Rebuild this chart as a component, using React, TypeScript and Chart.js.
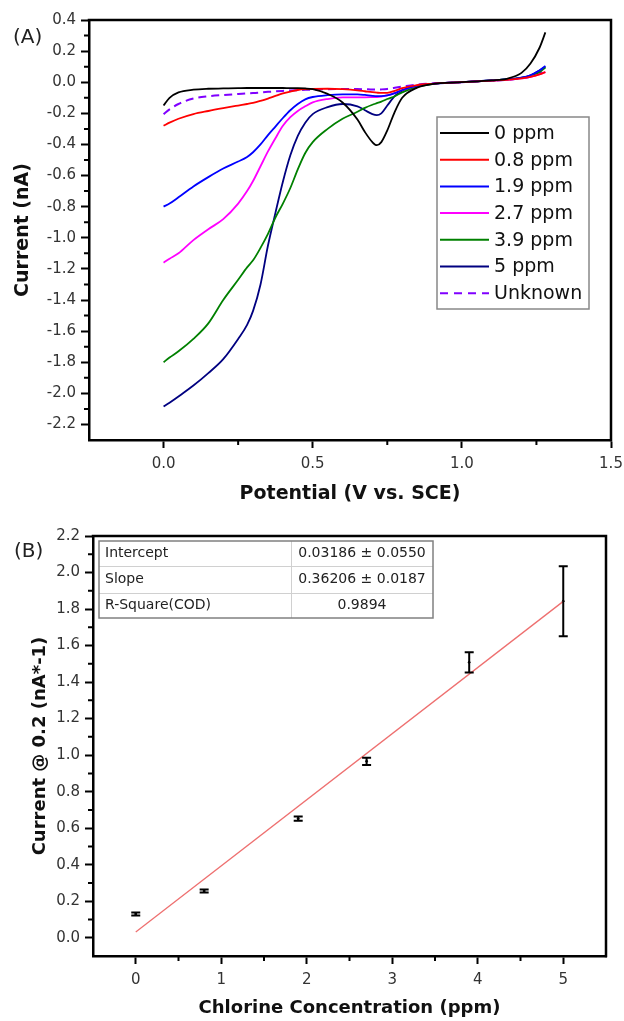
import React, { useEffect, useRef } from "react";
import Chart from "chart.js/auto";

const FONT = "'DejaVu Sans', sans-serif";

// ---------- Panel A data ----------
const POTENTIAL = [0, 0.02, 0.05, 0.1, 0.15, 0.2, 0.25, 0.28, 0.3, 0.325, 0.35, 0.375, 0.4, 0.425, 0.45, 0.475, 0.5, 0.55, 0.6, 0.65, 0.675, 0.7, 0.715, 0.73, 0.75, 0.775, 0.8, 0.85, 0.9, 1.0, 1.1, 1.15, 1.2, 1.23, 1.26, 1.28];

const I_0PPM = [-0.15, -0.1, -0.065, -0.048, -0.042, -0.04, -0.038, -0.037, -0.037, -0.037, -0.037, -0.037, -0.037, -0.038, -0.038, -0.04, -0.045, -0.075, -0.13, -0.24, -0.32, -0.385, -0.405, -0.385, -0.31, -0.19, -0.1, -0.035, -0.012, 0.0, 0.012, 0.022, 0.06, 0.12, 0.22, 0.32];
const I_08PPM = [-0.28, -0.26, -0.235, -0.205, -0.185, -0.167, -0.15, -0.14, -0.133, -0.12, -0.105, -0.088, -0.072, -0.06, -0.05, -0.045, -0.043, -0.042, -0.045, -0.052, -0.058, -0.064, -0.067, -0.069, -0.068, -0.055, -0.038, -0.018, -0.01, 0.0, 0.01, 0.015, 0.025, 0.035, 0.05, 0.065];
const I_19PPM = [-0.8, -0.78, -0.74, -0.67, -0.61, -0.555, -0.51, -0.48, -0.45, -0.4, -0.34, -0.285, -0.23, -0.18, -0.14, -0.11, -0.095, -0.083, -0.078, -0.078, -0.082, -0.088, -0.09, -0.09, -0.085, -0.07, -0.05, -0.022, -0.01, 0.0, 0.012, 0.018, 0.03, 0.045, 0.075, 0.105];
const I_27PPM = [-1.16, -1.135, -1.1, -1.015, -0.945, -0.88, -0.78, -0.7, -0.635, -0.54, -0.445, -0.36, -0.28, -0.225, -0.185, -0.155, -0.13, -0.108, -0.098, -0.097, -0.097, -0.096, -0.095, -0.092, -0.085, -0.07, -0.05, -0.022, -0.01, 0.0, 0.01, 0.015, 0.025, 0.035, 0.05, 0.065];
const I_39PPM = [-1.8, -1.77, -1.73, -1.65, -1.55, -1.4, -1.27, -1.19, -1.145, -1.065, -0.975, -0.87, -0.78, -0.68, -0.56, -0.455, -0.385, -0.3, -0.235, -0.19, -0.165, -0.145, -0.135, -0.125, -0.108, -0.09, -0.065, -0.03, -0.012, 0.0, 0.012, 0.018, 0.028, 0.04, 0.065, 0.095];
const I_5PPM = [-2.085, -2.06, -2.02, -1.95, -1.87, -1.78, -1.65, -1.56, -1.47, -1.3, -1.05, -0.84, -0.64, -0.47, -0.345, -0.26, -0.205, -0.16, -0.14, -0.155, -0.18, -0.205, -0.212, -0.2, -0.15, -0.09, -0.055, -0.025, -0.01, 0.0, 0.012, 0.018, 0.03, 0.045, 0.075, 0.1];
const I_UNKNOWN = [-0.205, -0.175, -0.14, -0.105, -0.09, -0.082, -0.076, -0.072, -0.07, -0.066, -0.062, -0.059, -0.056, -0.053, -0.051, -0.049, -0.047, -0.045, -0.044, -0.044, -0.045, -0.047, -0.047, -0.046, -0.043, -0.035, -0.028, -0.015, -0.008, 0.0, 0.01, 0.015, 0.025, 0.035, 0.055, 0.075];

const SERIES_LABELS = ["0 ppm", "0.8 ppm", "1.9 ppm", "2.7 ppm", "3.9 ppm", "5 ppm", "Unknown"];
const SERIES_COLORS = ["#000000", "#ff0000", "#0000ff", "#ff00ff", "#008000", "#000080", "#8000ff"];

const A_X_TICKS = [0, 0.5, 1.0, 1.5];
const A_Y_TICKS = [0.4, 0.2, 0.0, -0.2, -0.4, -0.6, -0.8, -1.0, -1.2, -1.4, -1.6, -1.8, -2.0, -2.2];
const A_X_MINOR = [0.25, 0.75, 1.25];
const A_Y_MINOR = [0.3, 0.1, -0.1, -0.3, -0.5, -0.7, -0.9, -1.1, -1.3, -1.5, -1.7, -1.9, -2.1];

// ---------- Panel B data ----------
const CONC = [0, 0.8, 1.9, 2.7, 3.9, 5];
const CURRENT_02 = [0.13, 0.256, 0.652, 0.966, 1.508, 1.843];
const CURRENT_ERR = [0.008, 0.008, 0.012, 0.02, 0.055, 0.192];
const FIT_X = [0, 5];
const FIT_Y = [0.032, 1.842];
const FIT_LABELS = ["Intercept", "Slope", "R-Square(COD)"];
const FIT_VALUES = ["0.03186 \u00b1 0.0550", "0.36206 \u00b1 0.0187", "0.9894"];

const B_X_TICKS = [0, 1, 2, 3, 4, 5];
const B_Y_TICKS = [0.0, 0.2, 0.4, 0.6, 0.8, 1.0, 1.2, 1.4, 1.6, 1.8, 2.0, 2.2];
const B_X_MINOR = [0.5, 1.5, 2.5, 3.5, 4.5];
const B_Y_MINOR = [0.1, 0.3, 0.5, 0.7, 0.9, 1.1, 1.3, 1.5, 1.7, 1.9, 2.1];

// ---------- plugins ----------
const framePlugin = {
  id: "frame",
  afterDraw(chart: any) {
    const { ctx, chartArea: a } = chart;
    ctx.save();
    ctx.strokeStyle = "#000";
    ctx.lineWidth = 2.5;
    ctx.lineCap = "square";
    ctx.beginPath();
    ctx.moveTo(a.left, a.top);
    ctx.lineTo(a.right, a.top);
    ctx.lineTo(a.right, a.bottom);
    ctx.stroke();
    ctx.restore();
  },
};

const minorTicksPlugin = {
  id: "minorTicks",
  afterDraw(chart: any, _args: any, opts: any) {
    const { ctx, chartArea: a, scales } = chart;
    ctx.save();
    ctx.strokeStyle = "#000";
    ctx.lineWidth = 2;
    ctx.beginPath();
    (opts.x || []).forEach((v: number) => {
      const px = scales.x.getPixelForValue(v);
      ctx.moveTo(px, a.bottom);
      ctx.lineTo(px, a.bottom + 5);
    });
    (opts.y || []).forEach((v: number) => {
      const py = scales.y.getPixelForValue(v);
      ctx.moveTo(a.left, py);
      ctx.lineTo(a.left - 5, py);
    });
    ctx.stroke();
    ctx.restore();
  },
};

const panelLabelPlugin = {
  id: "panelLabel",
  afterDraw(chart: any, _args: any, opts: any) {
    const { ctx } = chart;
    ctx.save();
    ctx.fillStyle = "#222";
    ctx.font = `20px ${FONT}`;
    ctx.textAlign = "left";
    ctx.textBaseline = "middle";
    ctx.fillText(opts.text, opts.x, opts.y);
    ctx.restore();
  },
};

const legendAPlugin = {
  id: "legendA",
  afterDraw(chart: any) {
    const { ctx } = chart;
    const left = 437, right = 589, top = 117, bottom = 309;
    ctx.save();
    ctx.fillStyle = "#fff";
    ctx.fillRect(left, top, right - left, bottom - top);
    ctx.strokeStyle = "#888";
    ctx.lineWidth = 1.5;
    ctx.strokeRect(left, top, right - left, bottom - top);
    ctx.font = `19px ${FONT}`;
    ctx.textBaseline = "middle";
    ctx.textAlign = "left";
    chart.data.datasets.forEach((ds: any, i: number) => {
      const y = 133 + i * 26.7;
      ctx.strokeStyle = ds.borderColor;
      ctx.lineWidth = 2;
      ctx.setLineDash(ds.borderDash && ds.borderDash.length ? [8, 6] : []);
      ctx.beginPath();
      ctx.moveTo(440, y);
      ctx.lineTo(489, y);
      ctx.stroke();
      ctx.setLineDash([]);
      ctx.fillStyle = "#111";
      ctx.fillText(ds.label, 494, y + 1);
    });
    ctx.restore();
  },
};

const errorBarsPlugin = {
  id: "errorBars",
  afterDatasetsDraw(chart: any) {
    const { ctx, scales } = chart;
    ctx.save();
    ctx.strokeStyle = "#000";
    ctx.lineWidth = 2;
    CONC.forEach((c, i) => {
      const px = scales.x.getPixelForValue(c);
      const y1 = scales.y.getPixelForValue(CURRENT_02[i] - CURRENT_ERR[i]);
      const y2 = scales.y.getPixelForValue(CURRENT_02[i] + CURRENT_ERR[i]);
      ctx.beginPath();
      ctx.moveTo(px, y1);
      ctx.lineTo(px, y2);
      ctx.moveTo(px - 4.5, y1);
      ctx.lineTo(px + 4.5, y1);
      ctx.moveTo(px - 4.5, y2);
      ctx.lineTo(px + 4.5, y2);
      ctx.stroke();
    });
    ctx.restore();
  },
};

const tablePlugin = {
  id: "fitTable",
  afterDraw(chart: any) {
    const { ctx } = chart;
    const left = 99, right = 433, top = 31, bottom = 108, colX = 291;
    const rowLines = [56, 83];
    const rowCenters = [43.5, 69, 95.5];
    ctx.save();
    ctx.fillStyle = "#fff";
    ctx.fillRect(left, top, right - left, bottom - top);
    ctx.strokeStyle = "#d0d0d0";
    ctx.lineWidth = 1;
    ctx.beginPath();
    rowLines.forEach((y) => {
      ctx.moveTo(left, y + 0.5);
      ctx.lineTo(right, y + 0.5);
    });
    ctx.moveTo(colX + 0.5, top);
    ctx.lineTo(colX + 0.5, bottom);
    ctx.stroke();
    ctx.strokeStyle = "#808080";
    ctx.lineWidth = 1.5;
    ctx.strokeRect(left, top, right - left, bottom - top);
    ctx.font = `14px ${FONT}`;
    ctx.fillStyle = "#222";
    ctx.textBaseline = "middle";
    FIT_LABELS.forEach((t, i) => {
      ctx.textAlign = "left";
      ctx.fillText(t, 105, rowCenters[i]);
      ctx.textAlign = "center";
      ctx.fillText(FIT_VALUES[i], 362, rowCenters[i]);
    });
    ctx.restore();
  },
};

function axisCommon() {
  return {
    grid: { drawOnChartArea: false, drawTicks: true, tickLength: 8, tickWidth: 2, tickColor: "#000" },
    border: { display: true, color: "#000", width: 2.5 },
  };
}

function fixX(h: number) {
  return (s: any) => {
    s.height = h;
    s.paddingLeft = 0;
    s.paddingRight = 0;
  };
}
function fixY(w: number) {
  return (s: any) => {
    s.width = w;
    s.paddingTop = 0;
    s.paddingBottom = 0;
  };
}

function ChartA() {
  const ref = useRef<HTMLCanvasElement>(null);
  useEffect(() => {
    const series = [I_0PPM, I_08PPM, I_19PPM, I_27PPM, I_39PPM, I_5PPM, I_UNKNOWN];
    const datasets = series.map((arr, i) => ({
      label: SERIES_LABELS[i],
      data: POTENTIAL.map((v, j) => ({ x: v, y: arr[j] })),
      borderColor: SERIES_COLORS[i],
      backgroundColor: SERIES_COLORS[i],
      borderWidth: i === 6 ? 2 : 1.8,
      borderDash: i === 6 ? [8, 5] : [],
      pointRadius: 0,
      cubicInterpolationMode: "monotone",
      fill: false,
    }));
    const chart = new Chart(ref.current as HTMLCanvasElement, {
      type: "line",
      data: { datasets } as any,
      options: {
        animation: false,
        responsive: false,
        devicePixelRatio: 1,
        layout: { padding: { top: 20, right: 13, left: 0, bottom: 0 } },
        plugins: {
          legend: { display: false },
          tooltip: { enabled: false },
          minorTicks: { x: A_X_MINOR, y: A_Y_MINOR },
          panelLabel: { text: "(A)", x: 13, y: 38 },
        } as any,
        scales: {
          x: {
            type: "linear",
            min: -0.25,
            max: 1.5,
            afterBuildTicks: (s: any) => {
              s.ticks = A_X_TICKS.map((v) => ({ value: v }));
            },
            afterFit: fixX(70),
            ...axisCommon(),
            ticks: {
              font: { family: FONT, size: 15 },
              color: "#333",
              padding: 7,
              maxRotation: 0,
              autoSkip: false,
              callback: (v: any) => Number(v).toFixed(1),
            },
            title: {
              display: true,
              text: "Potential (V vs. SCE)",
              font: { family: FONT, size: 19, weight: "bold" },
              color: "#111",
              padding: { top: 0, bottom: 5 },
            },
          },
          y: {
            type: "linear",
            min: -2.3,
            max: 0.4,
            afterBuildTicks: (s: any) => {
              s.ticks = A_Y_TICKS.map((v) => ({ value: v }));
            },
            afterFit: fixY(89),
            ...axisCommon(),
            ticks: {
              font: { family: FONT, size: 15 },
              color: "#333",
              padding: 5,
              autoSkip: false,
              callback: (v: any) => Number(v).toFixed(1),
            },
            title: {
              display: true,
              text: "Current (nA)",
              font: { family: FONT, size: 19, weight: "bold" },
              color: "#111",
              padding: { top: 12, bottom: 0 },
            },
          },
        } as any,
      },
      plugins: [framePlugin, minorTicksPlugin, legendAPlugin, panelLabelPlugin],
    });
    return () => chart.destroy();
  }, []);
  return <canvas ref={ref} width={624} height={510} style={{ display: "block", width: 624, height: 510 }} />;
}

function ChartB() {
  const ref = useRef<HTMLCanvasElement>(null);
  useEffect(() => {
    const chart = new Chart(ref.current as HTMLCanvasElement, {
      type: "scatter",
      data: {
        datasets: [
          {
            type: "line",
            label: "Fit",
            data: FIT_X.map((x, i) => ({ x, y: FIT_Y[i] })),
            borderColor: "rgb(238,112,112)",
            borderWidth: 1.3,
            pointRadius: 0,
            fill: false,
          },
          {
            type: "scatter",
            label: "Current @ 0.2",
            data: CONC.map((x, i) => ({ x, y: CURRENT_02[i] })),
            borderColor: "#000",
            backgroundColor: "#000",
            pointRadius: 1,
          },
        ],
      } as any,
      options: {
        animation: false,
        responsive: false,
        devicePixelRatio: 1,
        layout: { padding: { top: 26, right: 18, left: 0, bottom: 0 } },
        plugins: {
          legend: { display: false },
          tooltip: { enabled: false },
          minorTicks: { x: B_X_MINOR, y: B_Y_MINOR },
          panelLabel: { text: "(B)", x: 14, y: 42 },
        } as any,
        scales: {
          x: {
            type: "linear",
            min: -0.5,
            max: 5.5,
            afterBuildTicks: (s: any) => {
              s.ticks = B_X_TICKS.map((v) => ({ value: v }));
            },
            afterFit: fixX(65),
            ...axisCommon(),
            ticks: {
              font: { family: FONT, size: 15 },
              color: "#333",
              padding: 7,
              maxRotation: 0,
              autoSkip: false,
              callback: (v: any) => String(v),
            },
            title: {
              display: true,
              text: "Chlorine Concentration (ppm)",
              font: { family: FONT, size: 18, weight: "bold" },
              color: "#111",
              padding: { top: 0, bottom: 2 },
            },
          },
          y: {
            type: "linear",
            min: -0.1,
            max: 2.2,
            afterBuildTicks: (s: any) => {
              s.ticks = B_Y_TICKS.map((v) => ({ value: v }));
            },
            afterFit: fixY(93),
            ...axisCommon(),
            ticks: {
              font: { family: FONT, size: 15 },
              color: "#333",
              padding: 5,
              autoSkip: false,
              callback: (v: any) => Number(v).toFixed(1),
            },
            title: {
              display: true,
              text: "Current @ 0.2 (nA*-1)",
              font: { family: FONT, size: 18, weight: "bold" },
              color: "#111",
              padding: { top: 30, bottom: 0 },
            },
          },
        } as any,
      },
      plugins: [framePlugin, minorTicksPlugin, errorBarsPlugin, tablePlugin, panelLabelPlugin],
    });
    return () => chart.destroy();
  }, []);
  return <canvas ref={ref} width={624} height={511} style={{ display: "block", width: 624, height: 511 }} />;
}

export default function App() {
  return (
    <div style={{ position: "absolute", left: 0, top: 0, width: 624, height: 1021, background: "#fff" }}>
      <ChartA />
      <ChartB />
    </div>
  );
}
